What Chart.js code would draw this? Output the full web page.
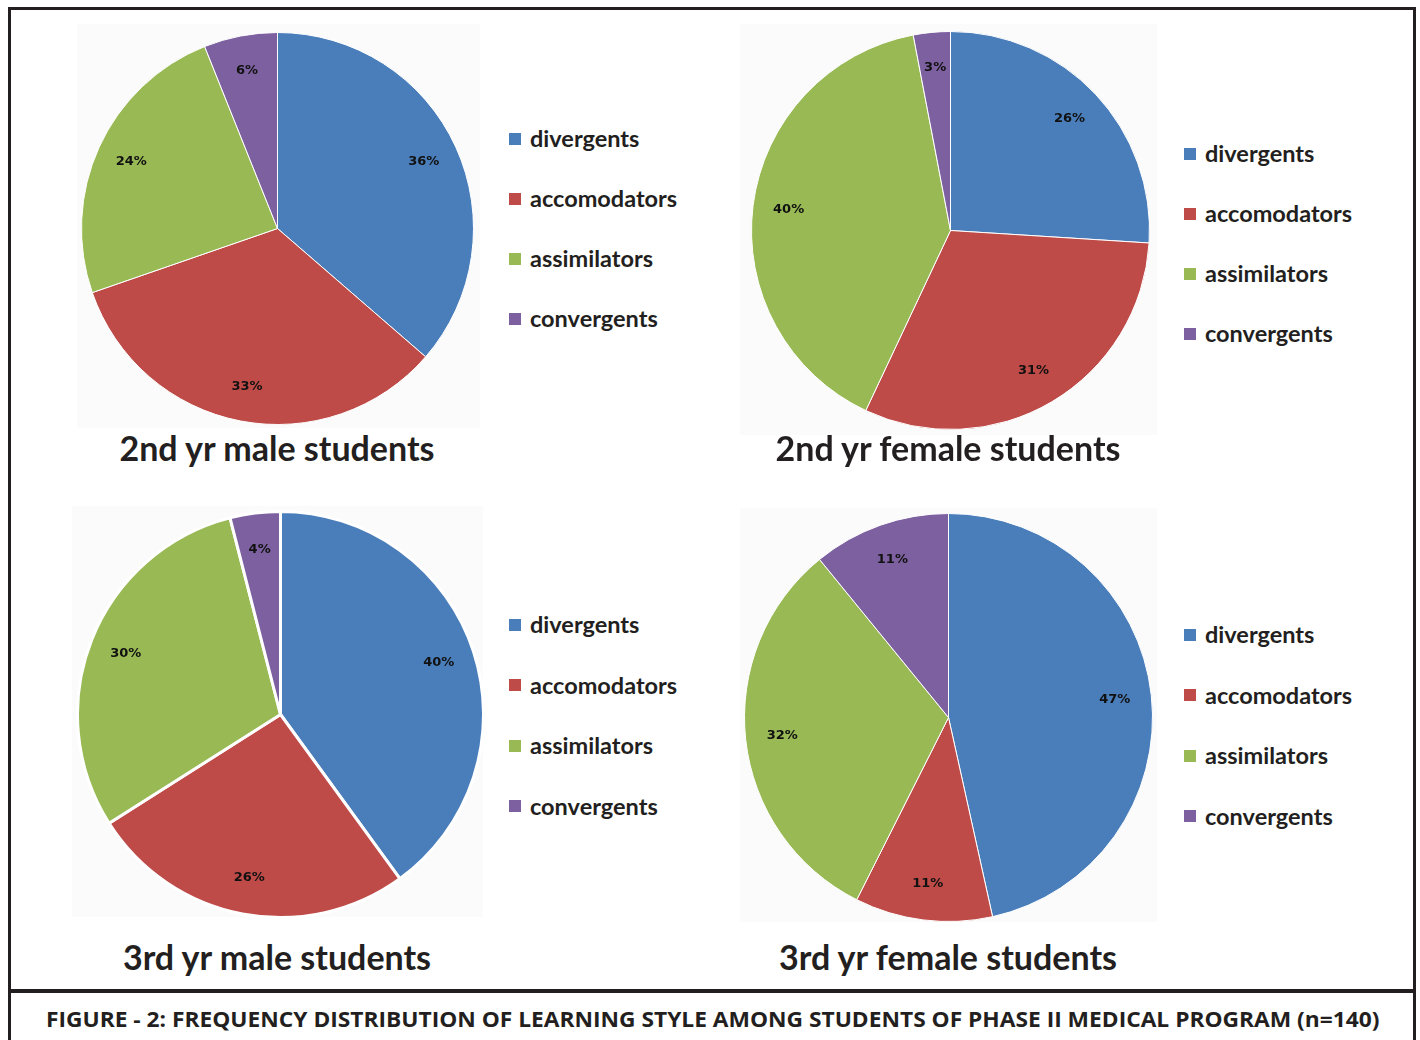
<!DOCTYPE html>
<html>
<head>
<meta charset="utf-8">
<script src="https://cdn.jsdelivr.net/npm/chart.js@4.4.1/dist/chart.umd.min.js"></script>
<style>
  body { margin: 0; background: #fff; width: 1420px; height: 1040px; overflow: hidden; position: relative; font-family: Lato, "Open Sans", sans-serif; }
  .frame { position: absolute; left: 8px; top: 7px; width: 1402px; height: 980px; border: 3px solid #231f20; }
  .capbox { position: absolute; left: 8px; top: 989px; width: 1402px; height: 60px; border: 3px solid #231f20; }
  .caption { position: absolute; left: 46px; top: 1003px; font-family: "Open Sans", sans-serif; font-weight: 700; font-size: 22px; color: #231f20; white-space: nowrap; transform-origin: 0 0; }
  .panel { position: absolute; background: #fafbfa; }
  canvas { position: absolute; }
  .title { position: absolute; width: 600px; text-align: center; font-weight: 700; font-size: 34px; color: #231f20; }
  .legend { position: absolute; font-weight: 700; font-size: 23.5px; color: #231f20; }
  .legend div { position: absolute; left: 0; white-space: nowrap; height: 26px; line-height: 26px; }
  .legend span { display: inline-block; width: 12px; height: 12px; margin-right: 9px; vertical-align: middle; position: relative; top: -2px; }
</style>
</head>
<body>
<div class="frame"></div>
<div class="capbox"></div>
<div class="caption" id="caption">FIGURE - 2: FREQUENCY DISTRIBUTION OF LEARNING STYLE AMONG STUDENTS OF PHASE II MEDICAL PROGRAM (n=140)</div>

<script>
// learning style categories
const categories = ['divergents', 'accomodators', 'assimilators', 'convergents'];
const colors = ['#4a7ebb', '#be4b48', '#98b954', '#7d60a0'];

// percentages per group
const male2nd = [36, 33, 24, 6];
const female2nd = [26, 31, 40, 3];
const male3rd = [40, 26, 30, 4];
const female3rd = [47, 11, 32, 11];

const titles = ['2nd yr male students', '2nd yr female students', '3rd yr male students', '3rd yr female students'];

// layout of each block: pie center, radius, panel box, legend, title
const blocks = [
  { data: male2nd, cx: 277, cy: 228, r: 195, panel: [77, 24, 403, 404], legX: 509, legY: 125, step: 60, titleX: 277, titleY: 427, border: 1 },
  { data: female2nd, cx: 950, cy: 230, r: 198, panel: [740, 24, 417, 411], legX: 1184, legY: 140, step: 60, titleX: 948, titleY: 427, border: 1 },
  { data: male3rd, cx: 280, cy: 714, r: 202, panel: [72, 506, 411, 411], legX: 509, legY: 611, step: 60.5, titleX: 277, titleY: 936, border: 3 },
  { data: female3rd, cx: 948, cy: 717, r: 203, panel: [740, 508, 417, 414], legX: 1184, legY: 621, step: 60.5, titleX: 948, titleY: 936, border: 1 }
];

const pctLabels = {
  id: 'pctLabels',
  afterDatasetsDraw(chart) {
    const ctx = chart.ctx;
    const meta = chart.getDatasetMeta(0);
    const vals = chart.data.datasets[0].data;
    ctx.save();
    ctx.font = 'bold 13px "DejaVu Sans"';
    ctx.fillStyle = '#111';
    ctx.textAlign = 'center';
    ctx.textBaseline = 'middle';
    meta.data.forEach((arc, i) => {
      const p = arc.getProps(['x', 'y', 'startAngle', 'endAngle', 'outerRadius'], true);
      const a = (p.startAngle + p.endAngle) / 2;
      const d = p.outerRadius * 0.82;
      ctx.fillText(vals[i] + '%', p.x + Math.cos(a) * d, p.y + Math.sin(a) * d);
    });
    ctx.restore();
  }
};

blocks.forEach((b, k) => {
  const panel = document.createElement('div');
  panel.className = 'panel';
  panel.style.left = b.panel[0] + 'px';
  panel.style.top = b.panel[1] + 'px';
  panel.style.width = b.panel[2] + 'px';
  panel.style.height = b.panel[3] + 'px';
  document.body.appendChild(panel);

  const size = 2 * b.r + b.border + 2;
  const cv = document.createElement('canvas');
  cv.width = size;
  cv.height = size;
  cv.style.left = (b.cx - size / 2) + 'px';
  cv.style.top = (b.cy - size / 2) + 'px';
  document.body.appendChild(cv);

  new Chart(cv.getContext('2d'), {
    type: 'pie',
    data: {
      labels: categories,
      datasets: [{
        data: b.data,
        backgroundColor: colors,
        borderColor: '#ffffff',
        borderWidth: b.border
      }]
    },
    options: {
      responsive: false,
      animation: false,
      layout: { padding: 0 },
      plugins: {
        legend: { display: false },
        tooltip: { enabled: false }
      }
    },
    plugins: [pctLabels]
  });

  const leg = document.createElement('div');
  leg.className = 'legend';
  leg.style.left = b.legX + 'px';
  leg.style.top = b.legY + 'px';
  categories.forEach((c, i) => {
    const row = document.createElement('div');
    row.style.top = (i * b.step) + 'px';
    row.innerHTML = '<span style="background:' + colors[i] + '"></span>' + c;
    leg.appendChild(row);
  });
  document.body.appendChild(leg);

  const t = document.createElement('div');
  t.className = 'title';
  t.style.left = (b.titleX - 300) + 'px';
  t.style.top = b.titleY + 'px';
  t.textContent = titles[k];
  document.body.appendChild(t);
});

// squeeze the caption to the width it has in the figure
const cap = document.getElementById('caption');
cap.style.transform = 'scaleX(' + (1334 / cap.offsetWidth) + ')';
</script>
</body>
</html>
